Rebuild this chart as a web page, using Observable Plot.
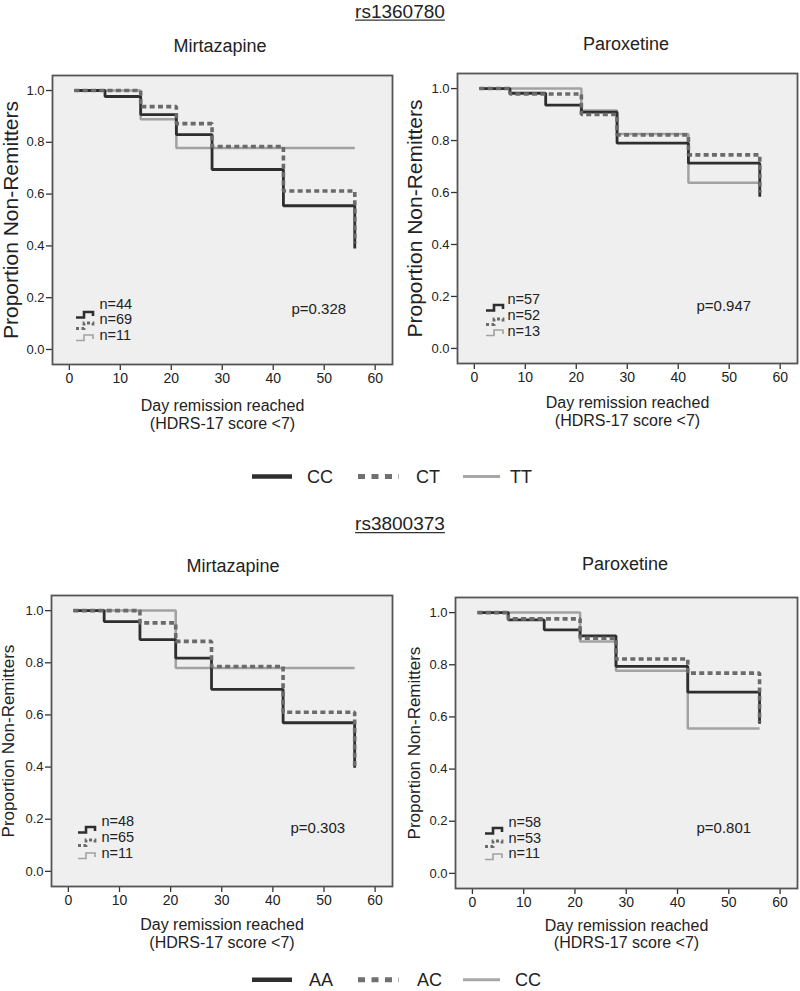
<!DOCTYPE html>
<html><head><meta charset="utf-8">
<script src="https://cdn.jsdelivr.net/npm/d3@7"></script>
<script src="https://cdn.jsdelivr.net/npm/@observablehq/plot@0.6"></script>
<style>
html,body{margin:0;padding:0;background:#fff;}
#page{position:relative;width:800px;height:991px;overflow:hidden;font-family:"Liberation Sans",Arial,sans-serif;color:#222;background:#fff;}
.panel{position:absolute;}
#overlay{position:absolute;left:0;top:0;pointer-events:none;}
</style></head><body><div id="page"></div>
<script>
// ---------- data ----------
const days = [1, 7, 14, 21, 28, 42, 56];
const snpNames = ["rs1360780", "rs3800373"];
const drugNames = ["Mirtazapine", "Paroxetine"];
const genotypes1 = ["CC", "CT", "TT"];
const genotypes2 = ["AA", "AC", "CC"];
const xTicks = [0, 10, 20, 30, 40, 50, 60];
const yTicks = [0, 0.2, 0.4, 0.6, 0.8, 1.0];
const yTitle = "Proportion Non-Remitters";
const xTitle = "Day remission reached\n(HDRS-17 score <7)";

// rs1360780, Mirtazapine
const rs1_mir_CC = [1, 0.977, 0.907, 0.830, 0.695, 0.555, 0.390];
const rs1_mir_CT = [1, 1, 0.938, 0.872, 0.784, 0.612, 0.410];
const rs1_mir_TT = [1, 1, 0.889, 0.778, 0.778, 0.778, 0.778];
// rs1360780, Paroxetine
const rs1_par_CC = [1, 0.982, 0.936, 0.909, 0.790, 0.713, 0.584];
const rs1_par_CT = [1, 0.979, 0.979, 0.900, 0.822, 0.745, 0.600];
const rs1_par_TT = [1, 1, 1, 0.916, 0.825, 0.638, 0.638];
// rs3800373, Mirtazapine
const rs3_mir_AA = [1, 0.958, 0.889, 0.818, 0.698, 0.570, 0.397];
const rs3_mir_AC = [1, 1, 0.953, 0.882, 0.786, 0.610, 0.400];
const rs3_mir_CC = [1, 1, 1, 0.780, 0.780, 0.780, 0.780];
// rs3800373, Paroxetine
const rs3_par_AA = [1, 0.972, 0.934, 0.911, 0.794, 0.695, 0.574];
const rs3_par_AC = [1, 0.976, 0.976, 0.902, 0.822, 0.768, 0.580];
const rs3_par_CC = [1, 1, 1, 0.889, 0.777, 0.556, 0.556];

const rs1_mir_n = [44, 69, 11];
const rs1_par_n = [57, 52, 13];
const rs3_mir_n = [48, 65, 11];
const rs3_par_n = [58, 53, 11];
const pValues = ["0.328", "0.947", "0.303", "0.801"];

// ---------- styles ----------
const FONT = '"Liberation Sans", Arial, sans-serif';
const lineStyles = [
  {stroke: "#2e2e2e", strokeWidth: 2.8},
  {stroke: "#6b6b6b", strokeWidth: 3.6, strokeDasharray: "5,3.3"},
  {stroke: "#a2a2a2", strokeWidth: 2.5}
];
const keyStyles = [
  {stroke: "#2e2e2e", w: 2.6, dash: null},
  {stroke: "#6b6b6b", w: 2.8, dash: "3,2.5"},
  {stroke: "#a2a2a2", w: 1.6, dash: null}
];

const panels = [
  {left: 0, top: 60, width: 400, height: 380, mt: 15, mr: 8, mb: 76, ml: 52, ylabSize: 21, ylabDx: -41, xtDy: 50,
   series: [rs1_mir_CC, rs1_mir_CT, rs1_mir_TT], n: rs1_mir_n, p: pValues[0],
   nDx: 47, nDy: [-56, -41, -25], keyDx: 24, keyDy: [-52, -41, -29], pDx: 239, pDy: -51},
  {left: 400, top: 60, width: 400, height: 380, mt: 13, mr: 3, mb: 77, ml: 57, ylabSize: 21, ylabDx: -42, xtDy: 48,
   series: [rs1_par_CC, rs1_par_CT, rs1_par_TT], n: rs1_par_n, p: pValues[1],
   nDx: 50, nDy: [-60, -44, -28], keyDx: 29, keyDy: [-58, -44, -33], pDx: 239, pDy: -53},
  {left: 0, top: 580, width: 400, height: 375, mt: 15, mr: 8, mb: 69, ml: 51, ylabSize: 17, ylabDx: -43, xtDy: 47,
   series: [rs3_mir_AA, rs3_mir_AC, rs3_mir_CC], n: rs3_mir_n, p: pValues[2],
   nDx: 50, nDy: [-61, -45, -29], keyDx: 27, keyDy: [-59, -46, -33], pDx: 239, pDy: -54},
  {left: 400, top: 580, width: 400, height: 375, mt: 17, mr: 3, mb: 67, ml: 55, ylabSize: 17, ylabDx: -41, xtDy: 45.5,
   series: [rs3_par_AA, rs3_par_AC, rs3_par_CC], n: rs3_par_n, p: pValues[3],
   nDx: 53, nDy: [-62, -46, -31], keyDx: 30, keyDy: [-60, -47, -34], pDx: 241, pDy: -56}
];

const page = document.getElementById("page");

function makePanel(cfg) {
  const rows = [];
  cfg.series.forEach((vals, g) => vals.forEach((v, i) => rows.push({day: days[i], surv: v, g})));
  const drawOrder = [2, 0, 1];
  const lineMarks = drawOrder.map(g => Plot.line(rows.filter(r => r.g === g), {
    x: "day", y: "surv", curve: "step-after", ...lineStyles[g], strokeLinecap: "butt", strokeLinejoin: "miter"
  }));
  const nMarks = cfg.n.map((n, i) => Plot.text([`n=${n}`], {
    frameAnchor: "bottom-left", textAnchor: "start", dx: cfg.nDx, dy: cfg.nDy[i], fontSize: 14.5, fill: "#222"
  }));
  const keyMark = (index, scales, values, dim) => {
    const g = d3.create("svg:g");
    const x0 = dim.marginLeft + cfg.keyDx;
    const yb = dim.height - dim.marginBottom;
    cfg.keyDy.forEach((dy, i) => {
      const st = keyStyles[i];
      g.append("path")
        .attr("d", `M${x0},${yb + dy + 5.5}h8v-5.5h9v4`)
        .attr("fill", "none").attr("stroke", st.stroke).attr("stroke-width", st.w)
        .attr("stroke-dasharray", st.dash);
    });
    return g.node();
  };
  const chart = Plot.plot({
    width: cfg.width, height: cfg.height,
    marginTop: cfg.mt, marginRight: cfg.mr, marginBottom: cfg.mb, marginLeft: cfg.ml,
    x: {domain: [-3.3, 63.4], label: null},
    y: {domain: [-0.058, 1.058], label: null},
    style: {fontFamily: FONT, color: "#222", background: "transparent", overflow: "visible"},
    marks: [
      Plot.frame({fill: "#efefef", stroke: null}),
      Plot.axisX(xTicks, {tickSize: 6, tickPadding: 3, fontSize: 14, label: null, stroke: "#333", strokeWidth: 1.3}),
      Plot.axisY(yTicks, {tickSize: 6, tickPadding: 2, fontSize: 13, label: null, tickFormat: d3.format(".1f"), stroke: "#333", strokeWidth: 1.3}),
      ...lineMarks,
      Plot.frame({stroke: "#555", strokeWidth: 1.8}),
      Plot.text([yTitle], {frameAnchor: "left", dx: cfg.ylabDx, rotate: -90, textAnchor: "middle", fontSize: cfg.ylabSize, fill: "#222"}),
      Plot.text([xTitle], {frameAnchor: "bottom", dy: cfg.xtDy, textAnchor: "middle", lineAnchor: "middle", lineHeight: 1.07, fontSize: 16, fill: "#222"}),
      ...nMarks,
      keyMark,
      Plot.text([`p=${cfg.p}`], {frameAnchor: "bottom-left", textAnchor: "start", dx: cfg.pDx, dy: cfg.pDy, fontSize: 15, fill: "#222"})
    ]
  });
  const div = document.createElement("div");
  div.className = "panel";
  div.style.left = cfg.left + "px";
  div.style.top = cfg.top + "px";
  div.appendChild(chart);
  page.appendChild(div);
}
panels.forEach(makePanel);

// ---------- overlay: titles and legends ----------
const svg = d3.select(page).append("svg").attr("id", "overlay")
  .attr("width", 800).attr("height", 991)
  .style("font-family", FONT);

function underlinedTitle(text, x, y) {
  const t = svg.append("text").attr("x", x).attr("y", y).attr("text-anchor", "middle")
    .attr("font-size", 19).attr("fill", "#222").text(text);
  const w = t.node().getComputedTextLength();
  svg.append("line").attr("x1", x - w / 2).attr("x2", x + w / 2).attr("y1", y + 2.6).attr("y2", y + 2.6)
    .attr("stroke", "#333").attr("stroke-width", 1.4);
}
underlinedTitle(snpNames[0], 400, 17.5);
underlinedTitle(snpNames[1], 400, 530);

const drugTitles = [
  {t: drugNames[0], x: 220, y: 52}, {t: drugNames[1], x: 626, y: 50},
  {t: drugNames[0], x: 233, y: 572}, {t: drugNames[1], x: 625, y: 570}
];
drugTitles.forEach(d => svg.append("text").attr("x", d.x).attr("y", d.y).attr("text-anchor", "middle")
  .attr("font-size", 18).attr("fill", "#222").text(d.t));

const legLines = [[252, 292], [358, 399], [463, 500]];
const legStyles = [
  {stroke: "#2e2e2e", w: 4.5, dash: null},
  {stroke: "#707070", w: 5, dash: "7,6.5"},
  {stroke: "#a8a8a8", w: 3, dash: null}
];
function legend(labels, y, textX) {
  labels.forEach((lab, i) => {
    const st = legStyles[i];
    svg.append("line").attr("x1", legLines[i][0]).attr("x2", legLines[i][1]).attr("y1", y).attr("y2", y)
      .attr("stroke", st.stroke).attr("stroke-width", st.w).attr("stroke-dasharray", st.dash);
    svg.append("text").attr("x", textX[i]).attr("y", y + 6.3).attr("font-size", 18).attr("fill", "#222").text(lab);
  });
}
legend(genotypes1, 476.5, [307, 416, 510]);
legend(genotypes2, 979.7, [309, 417, 515]);
</script>
</body></html>
